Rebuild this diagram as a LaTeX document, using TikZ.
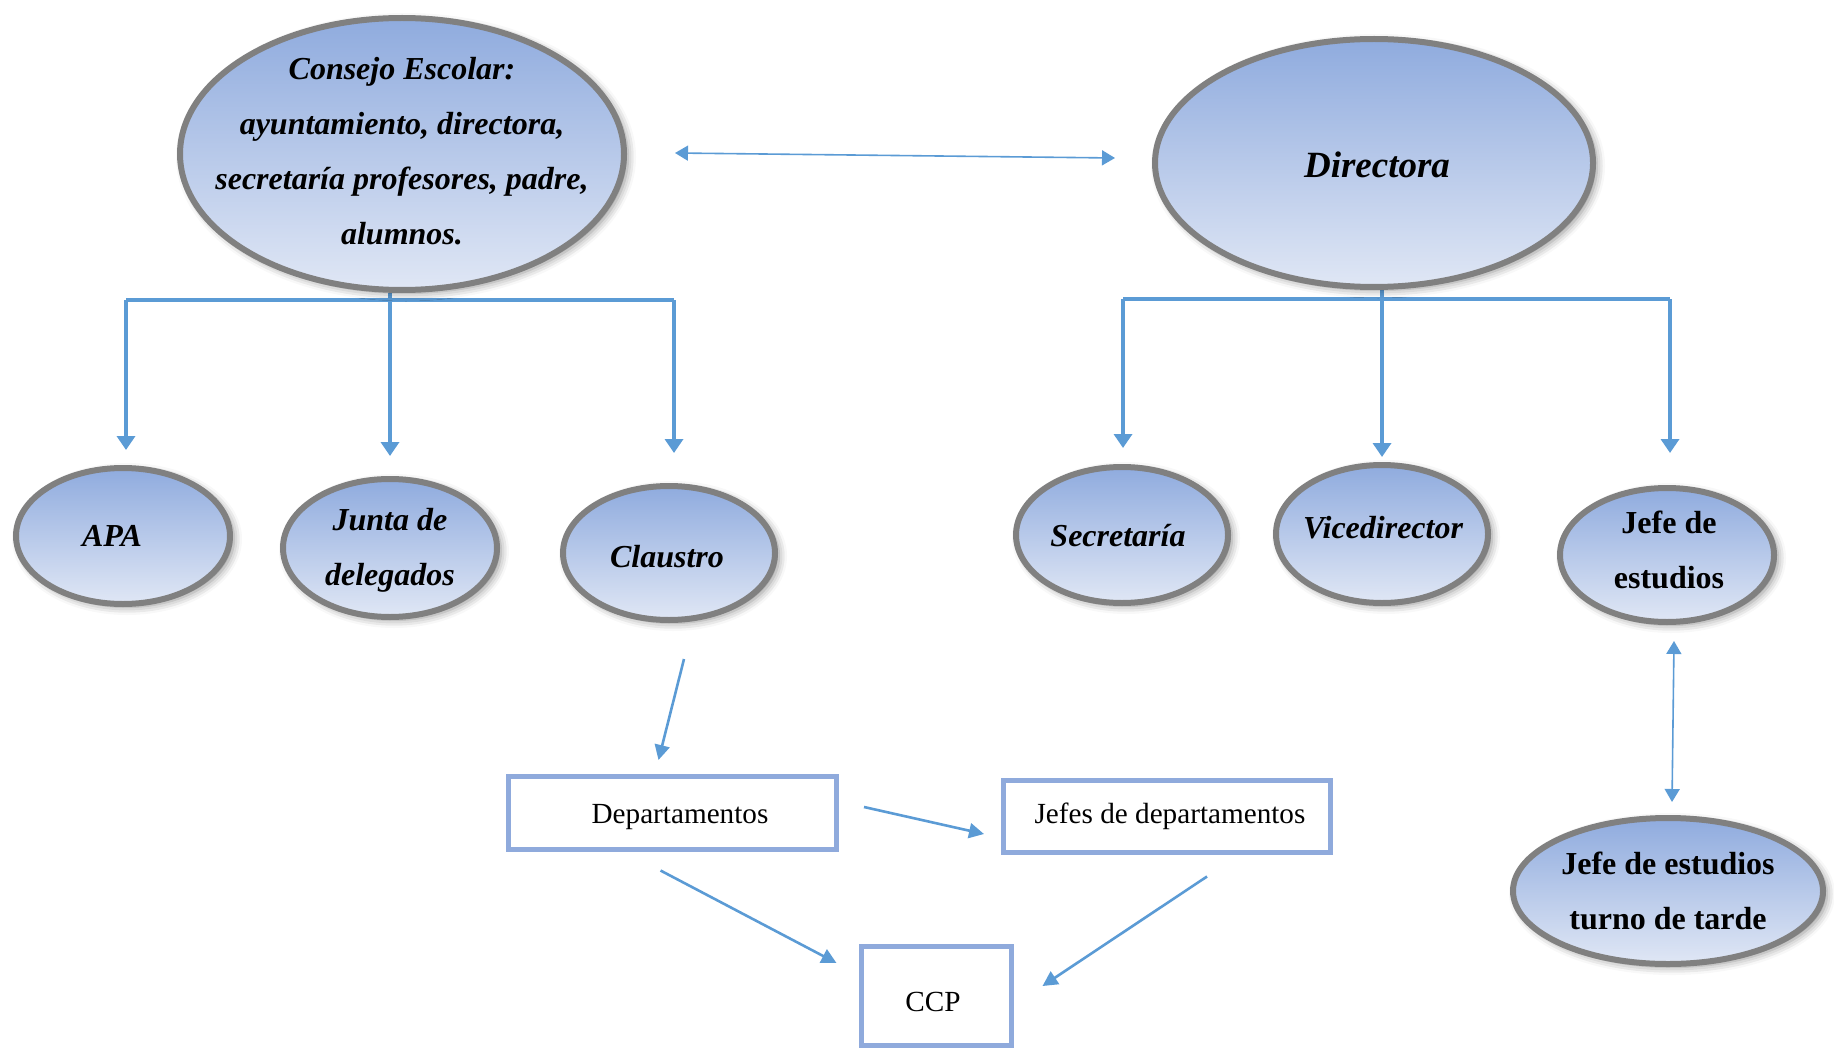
\documentclass[tikz,border=0pt]{standalone}
\usepackage{fontspec}
\setmainfont{Liberation Serif}
\usetikzlibrary{shapes.geometric,arrows.meta,shadows.blur,calc,backgrounds}

\definecolor{linkblue}{RGB}{91,155,213}
\definecolor{boxblue}{RGB}{143,170,220}
\definecolor{rimgray}{RGB}{128,128,128}
\definecolor{fadetop}{RGB}{143,171,222}
\definecolor{fadebot}{RGB}{224,231,245}

\tikzset{
  role/.style={ellipse, draw=rimgray, line width=3pt,
    top color=fadetop, bottom color=fadebot,
    blur shadow={shadow xshift=2pt, shadow yshift=-1.5pt,
                 shadow blur radius=4pt, shadow opacity=45},
    inner sep=0pt},
  roletext/.style={align=center, inner sep=0pt,
    font=\fontsize{16}{27.5}\selectfont\bfseries\itshape},
  roleupright/.style={align=center, inner sep=0pt,
    font=\fontsize{16}{27.5}\selectfont\bfseries},
  unit/.style={rectangle, draw=boxblue, line width=2.5pt, fill=white,
    inner sep=0pt, font=\fontsize{14.6}{17}\selectfont},
  tree/.style={linkblue, line width=1.8pt},
  treearr/.style={tree, -{Triangle[length=7pt,width=9pt]}},
  dbl/.style={linkblue, line width=0.8pt,
    {Triangle[length=6.5pt,width=7.5pt]}-{Triangle[length=6.5pt,width=7.5pt]}},
  link/.style={linkblue, line width=1.3pt, -{Triangle[length=7.5pt,width=7.5pt]}}
}

\begin{document}
\begin{tikzpicture}[x=0.5pt, y=-0.5pt]
\useasboundingbox (0,0) rectangle (1834,1048);

% governing bodies
\node[role, minimum width=222pt, minimum height=136pt] (cons) at (402,154) {};
\node[roletext] (cons-t) at (402,151) {Consejo Escolar:\\ayuntamiento, directora,\\secretaría profesores, padre,\\alumnos.};
\node[role, minimum width=219pt, minimum height=124pt] (dir) at (1374,163) {};
\node[roletext, font=\fontsize{18.5}{22}\selectfont\bfseries\itshape] (dir-t) at (1377,165) {Directora};

% bodies under the school council
\node[role, minimum width=107pt, minimum height=68pt] (apa) at (123,536) {};
\node[roletext] (apa-t) at (112,536) {APA};
\node[role, minimum width=107pt, minimum height=69pt] (jun) at (390,548) {};
\node[roletext] (jun-t) at (390,550) {Junta de\\delegados};
\node[role, minimum width=106pt, minimum height=67pt] (cla) at (669,553) {};
\node[roletext] (cla-t) at (667,557) {Claustro};

% management team
\node[role, minimum width=106pt, minimum height=68pt] (sec) at (1122,535) {};
\node[roletext] (sec-t) at (1118,536) {Secretaría};
\node[role, minimum width=106pt, minimum height=69pt] (vic) at (1382,534) {};
\node[roletext] (vic-t) at (1383,528) {Vicedirector};
\node[role, minimum width=107pt, minimum height=67pt] (jef) at (1667,555) {};
\node[roleupright] (jef-t) at (1669,550) {Jefe de\\estudios};
\node[role, minimum width=155pt, minimum height=73pt] (tur) at (1668,891) {};
\node[roleupright] (tur-t) at (1668,891) {Jefe de estudios\\turno de tarde};

% coordination boxes
\node[unit, minimum width=164pt, minimum height=36.5pt] (dep) at (672.5,813) {};
\node[inner sep=0pt, font=\fontsize{14.6}{17}\selectfont, anchor=base] (dep-t) at (680,823) {Departamentos};
\node[unit, minimum width=163.5pt, minimum height=36pt] (jdp) at (1167,816.5) {};
\node[inner sep=0pt, font=\fontsize{14.6}{17}\selectfont, anchor=base] (jdp-t) at (1170,823) {Jefes de departamentos};
\node[unit, minimum width=75pt, minimum height=49.5pt] (ccp) at (936.5,996) {};
\node[inner sep=0pt, font=\fontsize{14.6}{17}\selectfont, anchor=base] (ccp-t) at (933,1011) {CCP};

% branch bars
\coordinate (cbl) at (126,300);
\coordinate (cbr) at (674,300);
\coordinate (dbl) at (1123,299);
\coordinate (dbr) at (1670,299);

\begin{pgfonlayer}{background}
  \draw[tree] (cbl) -- (cbr);
  \draw[treearr, shorten >=7.5pt] (cbl) -- (cbl |- apa.north);
  \draw[treearr, shorten >=10pt] (jun.north |- cons.south) -- (jun.north);
  \draw[treearr, shorten >=15pt] (cbr) -- (cbr |- cla.north);

  \draw[tree] (dbl) -- (dbr);
  \draw[treearr, shorten >=8pt] (dbl) -- (dbl |- sec.north);
  \draw[treearr, shorten >=2.5pt] (vic.north |- dir.south) -- (vic.north);
  \draw[treearr, shorten >=16pt] (dbr) -- (dbr |- jef.north);
\end{pgfonlayer}

% two-way relations
\draw[dbl] ($(cons.east)+(48,-1)$) -- ($(dir.west)+(-37,-5)$);
\draw[dbl] ($(jef.south)+(7,16)$) -- ($(tur.north)+(4,-13)$);

% flow towards the CCP
\draw[link] ($(cla.south)+(15,36)$) -- ($(dep.north)+(-14,-14)$);
\draw[link] ($(dep.east)+(25,-6)$) -- ($(jdp.west)+(-17,17.5)$);
\draw[link] ($(dep.south)+(-12,18.5)$) -- ($(ccp.west)+(-22.5,-33)$);
\draw[link] ($(jdp.south)+(40,21.5)$) -- ($(ccp.east)+(28.5,-10)$);
\end{tikzpicture}
\end{document}
